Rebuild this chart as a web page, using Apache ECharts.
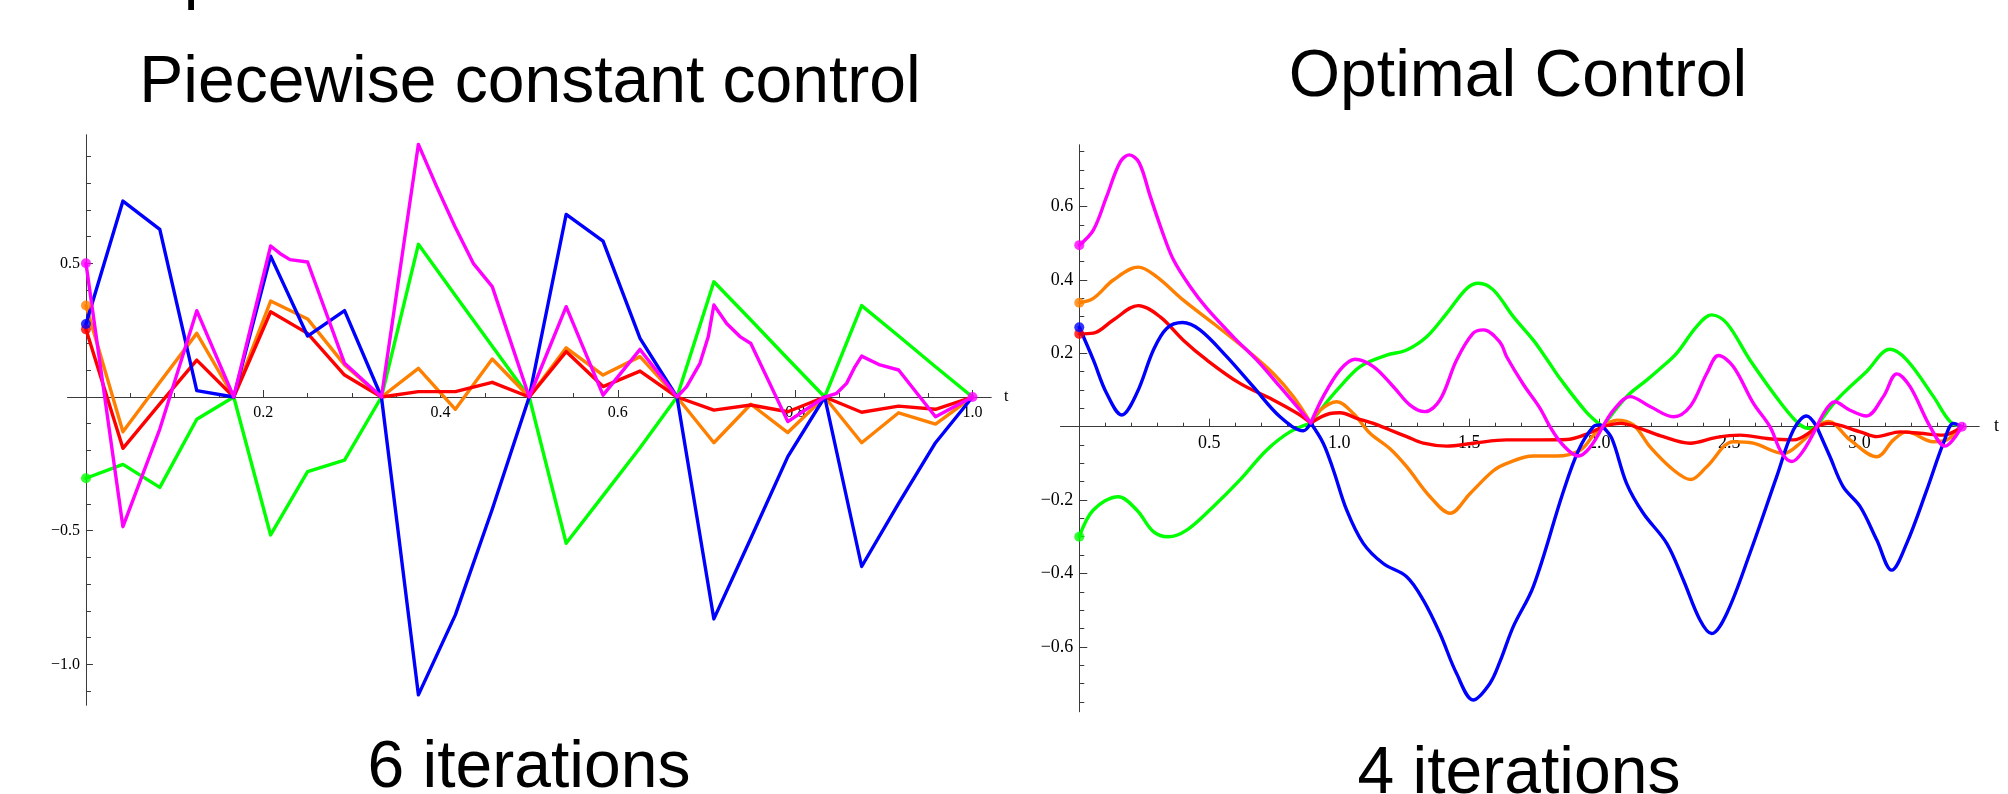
<!DOCTYPE html>
<html>
<head>
<meta charset="utf-8">
<title>Piecewise constant control / Optimal Control</title>
<script src="https://cdn.jsdelivr.net/npm/echarts@6/dist/echarts.min.js"></script>
<style>
html,body{margin:0;padding:0;background:#fff;}
#charts{width:2008px;height:794px;}
</style>
</head>
<body>
<div id="charts"></div>
<script>
// left panel: piecewise constant control, nodes every 1/24
var leftT = [0, 0.0417, 0.0833, 0.125, 0.1667, 0.2083, 0.25, 0.2917, 0.3333, 0.375, 0.4167, 0.4583, 0.5,
	0.5417, 0.5833, 0.625, 0.6667, 0.7083, 0.75, 0.7917, 0.8333, 0.875, 0.9167, 0.9583, 1.0];
var greenL  = [-0.304, -0.252, -0.338, -0.083, 0, -0.516, -0.279, -0.236, 0, 0.571, 0.38, 0.19, 0,
	-0.547, -0.369, -0.19, 0, 0.431, 0.288, 0.143, 0, 0.342, 0.228, 0.113, 0];
var orangeL = [0.342, -0.13, 0.055, 0.238, 0, 0.359, 0.292, 0.12, 0, 0.107, -0.046, 0.142, 0,
	0.184, 0.082, 0.151, 0, -0.171, -0.027, -0.133, 0, -0.171, -0.059, -0.101, 0];
var redL    = [0.253, -0.192, -0.026, 0.138, 0, 0.319, 0.238, 0.082, 0, 0.02, 0.02, 0.055, 0,
	0.17, 0.039, 0.097, 0, -0.049, -0.03, -0.055, 0, -0.057, -0.034, -0.046, 0];
var blueL   = [0.273, 0.733, 0.627, 0.024, 0, 0.527, 0.228, 0.323, 0, -1.114, -0.815, -0.42, 0,
	0.683, 0.583, 0.219, 0, -0.83, -0.528, -0.223, 0, -0.634, -0.398, -0.171, 0];
// magenta is curved between some nodes, so it keeps its own (t, value) pairs
var magentaL = [[0,0.5],[0.0417,-0.485],[0.0833,-0.12],[0.125,0.323],[0.1667,0],[0.2083,0.565],[0.2188,0.537],
	[0.2301,0.514],[0.25,0.505],[0.2917,0.126],[0.3333,0],[0.375,0.945],[0.3956,0.787],[0.4163,0.637],[0.4369,0.5],
	[0.4583,0.413],[0.5,0],[0.5417,0.338],[0.5833,0.007],[0.625,0.178],[0.6667,0],[0.6776,0.039],[0.6926,0.126],
	[0.702,0.226],[0.7083,0.344],[0.7227,0.275],[0.7377,0.226],[0.75,0.2],[0.7917,-0.092],[0.8333,0],[0.8468,0.014],
	[0.858,0.051],[0.8674,0.113],[0.875,0.153],[0.8956,0.12],[0.9167,0.101],[0.9583,-0.074],[1.0,0]];

// right panel: optimal control, smooth curves joined at the knots
var knotsR = [0.89, 2.013, 2.836];
var greenR = [[0,-0.3],[0.054,-0.227],[0.15,-0.191],[0.221,-0.227],[0.285,-0.286],[0.342,-0.3],[0.413,-0.282],
	[0.515,-0.218],[0.618,-0.145],[0.72,-0.064],[0.81,-0.014],[0.89,0.01],
	[0.938,0.055],[1.003,0.109],[1.08,0.164],[1.182,0.195],[1.259,0.209],[1.336,0.245],[1.413,0.309],[1.49,0.377],
	[1.535,0.391],[1.592,0.373],[1.669,0.3],[1.746,0.236],[1.8,0.182],[1.85,0.13],[1.95,0.04],[2.013,0],
	[2.105,0.082],[2.182,0.127],[2.233,0.158],[2.297,0.2],[2.374,0.273],[2.432,0.305],[2.49,0.282],[2.579,0.182],
	[2.708,0.055],[2.772,0.005],[2.81,-0.005],[2.836,0],
	[2.913,0.073],[3.027,0.15],[3.118,0.211],[3.182,0.182],[3.285,0.082],[3.349,0.014],[3.394,0]];
var orangeR = [[0,0.338],[0.054,0.35],[0.131,0.4],[0.227,0.435],[0.297,0.409],[0.4,0.345],[0.515,0.282],
	[0.644,0.209],[0.746,0.145],[0.823,0.082],[0.89,0.01],
	[0.926,0.045],[0.99,0.068],[1.054,0.036],[1.118,-0.018],[1.195,-0.06],[1.259,-0.109],[1.349,-0.191],
	[1.426,-0.236],[1.503,-0.182],[1.592,-0.12],[1.644,-0.1],[1.746,-0.08],[1.836,-0.08],[1.926,-0.064],
	[1.978,-0.023],[2.013,0],
	[2.067,0.018],[2.131,0.005],[2.195,-0.055],[2.285,-0.118],[2.351,-0.144],[2.413,-0.109],[2.515,-0.041],
	[2.592,-0.045],[2.708,-0.073],[2.772,-0.045],[2.836,0],
	[2.881,0.014],[2.964,-0.036],[3.067,-0.082],[3.131,-0.036],[3.182,-0.014],[3.285,-0.041],[3.336,-0.036],[3.394,0]];
var redR = [[0,0.253],[0.054,0.255],[0.131,0.291],[0.227,0.33],[0.31,0.3],[0.4,0.236],[0.49,0.182],[0.618,0.118],
	[0.746,0.073],[0.849,0.032],[0.89,0.01],
	[0.964,0.036],[1.003,0.038],[1.067,0.023],[1.131,0.009],[1.195,-0.009],[1.259,-0.027],[1.323,-0.045],
	[1.413,-0.053],[1.515,-0.045],[1.644,-0.036],[1.772,-0.036],[1.875,-0.035],[1.94,-0.023],[2.013,0],
	[2.082,0.009],[2.159,-0.005],[2.236,-0.025],[2.349,-0.045],[2.451,-0.029],[2.541,-0.023],[2.644,-0.032],
	[2.746,-0.036],[2.836,0],
	[2.881,0.009],[3.003,-0.014],[3.067,-0.027],[3.157,-0.014],[3.233,-0.018],[3.323,-0.023],[3.394,0]];
var blueR = [[0,0.271],[0.054,0.182],[0.105,0.091],[0.163,0.032],[0.221,0.091],[0.285,0.209],[0.336,0.268],
	[0.397,0.284],[0.464,0.264],[0.567,0.191],[0.669,0.109],[0.772,0.027],[0.862,-0.011],[0.89,0.01],
	[0.938,-0.045],[0.977,-0.118],[1.028,-0.227],[1.092,-0.318],[1.169,-0.373],[1.259,-0.409],[1.323,-0.473],
	[1.387,-0.564],[1.451,-0.673],[1.515,-0.745],[1.579,-0.7],[1.618,-0.64],[1.669,-0.545],[1.746,-0.436],
	[1.86,-0.18],[1.92,-0.064],[1.977,0],[2.003,0.005],[2.013,0],
	[2.048,-0.032],[2.105,-0.155],[2.169,-0.236],[2.259,-0.318],[2.323,-0.418],[2.387,-0.527],[2.432,-0.564],
	[2.49,-0.509],[2.579,-0.345],[2.682,-0.136],[2.746,-0.009],[2.797,0.029],[2.836,0],
	[2.887,-0.082],[2.938,-0.164],[3.003,-0.218],[3.067,-0.309],[3.124,-0.391],[3.182,-0.318],[3.259,-0.173],
	[3.323,-0.045],[3.362,0.009],[3.394,0]];
var magentaR = [[0,0.495],[0.054,0.536],[0.105,0.627],[0.156,0.72],[0.192,0.741],[0.23,0.72],[0.272,0.63],
	[0.32,0.53],[0.362,0.455],[0.426,0.382],[0.49,0.323],[0.592,0.245],[0.682,0.182],[0.772,0.109],[0.849,0.045],
	[0.89,0.01],
	[0.938,0.082],[1.003,0.155],[1.06,0.184],[1.131,0.164],[1.208,0.109],[1.272,0.059],[1.329,0.041],[1.387,0.073],
	[1.451,0.182],[1.515,0.255],[1.555,0.264],[1.618,0.23],[1.644,0.19],[1.708,0.115],[1.772,0.05],[1.81,0],
	[1.86,-0.05],[1.919,-0.08],[1.96,-0.06],[2.013,0],
	[2.06,0.05],[2.118,0.082],[2.195,0.055],[2.285,0.027],[2.349,0.055],[2.413,0.145],[2.458,0.194],[2.515,0.164],
	[2.592,0.064],[2.656,0],[2.7,-0.07],[2.74,-0.095],[2.78,-0.07],[2.836,0],
	[2.906,0.068],[2.964,0.045],[3.027,0.029],[3.092,0.082],[3.144,0.144],[3.195,0.109],[3.272,0],[3.329,-0.053],[3.394,0]];

// tick and label values
var leftXLabels  = [0.2, 0.4, 0.6, 0.8, 1.0];
var leftXMinor   = [0.05, 0.1, 0.15, 0.25, 0.3, 0.35, 0.45, 0.5, 0.55, 0.65, 0.7, 0.75, 0.85, 0.9, 0.95];
var leftYLabels  = [-1.0, -0.5, 0.5];
var leftYMinor   = [-1.1, -0.9, -0.8, -0.7, -0.6, -0.4, -0.3, -0.2, -0.1, 0.1, 0.2, 0.3, 0.4, 0.6, 0.7, 0.8, 0.9];
var rightXLabels = [0.5, 1.0, 1.5, 2.0, 2.5, 3.0];
var rightXMinor  = [0.1, 0.2, 0.3, 0.4, 0.6, 0.7, 0.8, 0.9, 1.1, 1.2, 1.3, 1.4, 1.6, 1.7, 1.8, 1.9,
	2.1, 2.2, 2.3, 2.4, 2.6, 2.7, 2.8, 2.9, 3.1, 3.2, 3.3, 3.4];
var rightYLabels = [-0.6, -0.4, -0.2, 0.2, 0.4, 0.6];
var rightYMinor  = [-0.75, -0.7, -0.65, -0.55, -0.5, -0.45, -0.35, -0.3, -0.25, -0.15, -0.1, -0.05,
	0.05, 0.1, 0.15, 0.25, 0.3, 0.35, 0.45, 0.5, 0.55, 0.65, 0.7, 0.75];

var colors = {green:'#00ff00', orange:'#ff8000', red:'#ff0000', blue:'#0000ff', magenta:'#ff00ff'};
var axisColor = '#3a3a3a';
var serif = '"Liberation Serif", "DejaVu Serif", serif';
var sans = '"Liberation Sans", Arial, sans-serif';

function pairs(ts, vs){
	var out = [];
	for (var i = 0; i < ts.length; i++) { out.push([ts[i], vs[i]]); }
	return out;
}

//cut a curve at the knots so each piece is smoothed on its own
function splitAtKnots(data, knots){
	var segs = [], cur = [];
	for (var i = 0; i < data.length; i++) {
		cur.push(data[i]);
		if (i > 0 && knots.indexOf(data[i][0]) >= 0) { segs.push(cur); cur = [data[i]]; }
	}
	if (cur.length > 1) segs.push(cur);
	return segs;
}

function fmt(v){
	return (v < 0 ? '\u2212' : '') + Math.abs(v).toFixed(1);
}

var grids = [], xAxes = [], yAxes = [], series = [];

function hiddenAxis(grid, min, max){
	return {type: 'value', gridIndex: grid, min: min, max: max, show: false};
}

function tickAxis(grid, min, max, ticks, len, labels, fontSize, pos, extra){
	var ax = {
		type: 'value', gridIndex: grid, min: min, max: max, position: pos,
		axisLine: {show: true, onZero: false, lineStyle: {color: axisColor, width: 1}},
		axisTick: {show: true, inside: true, length: len, customValues: ticks, lineStyle: {color: axisColor, width: 1}},
		axisLabel: {show: !!labels, customValues: labels || [], formatter: fmt, margin: pos == 'bottom' ? 8 : 6,
			fontFamily: serif, fontSize: fontSize, color: '#000'},
		splitLine: {show: false}
	};
	for (var k in extra) { ax[k] = extra[k]; }
	return ax;
}

// one panel = a data grid, a grid whose bottom edge is the t axis at 0, a grid whose left edge is the value axis at t=0
function addPanel(p){
	var g = grids.length;
	var zeroY = p.height * p.ymax / (p.ymax - p.ymin);
	var zeroX = p.width * (-p.xmin) / (p.xmax - p.xmin);
	grids.push({left: p.left, top: p.top, width: p.width, height: p.height});
	grids.push({left: p.left, top: p.top, width: p.width, height: zeroY});
	grids.push({left: p.left + zeroX, top: p.top, width: p.width - zeroX, height: p.height});
	var dataAxis = xAxes.length;
	xAxes.push(hiddenAxis(g, p.xmin, p.xmax));
	yAxes.push(hiddenAxis(g, p.ymin, p.ymax));
	// t axis
	xAxes.push(tickAxis(g + 1, p.xmin, p.xmax, p.xMinor, p.minorLen, null, p.fontSize, 'bottom'));
	xAxes.push(tickAxis(g + 1, p.xmin, p.xmax, p.xLabels, p.majorLen, p.xLabels, p.fontSize, 'bottom',
		{name: 't', nameLocation: 'end', nameGap: p.nameGap,
		 nameTextStyle: {fontFamily: serif, fontSize: p.fontSize, color: '#000'}}));
	yAxes.push(hiddenAxis(g + 1, 0, 1));
	yAxes.push(hiddenAxis(g + 1, 0, 1));
	// value axis
	yAxes.push(tickAxis(g + 2, p.ymin, p.ymax, p.yMinor, p.minorLen + 1, null, p.fontSize, 'left'));
	yAxes.push(tickAxis(g + 2, p.ymin, p.ymax, p.yLabels.concat([0]), p.majorLen, p.yLabels, p.fontSize, 'left'));
	xAxes.push(hiddenAxis(g + 2, 0, 1));
	xAxes.push(hiddenAxis(g + 2, 0, 1));
	return dataAxis;
}

function lineSeries(data, color, ai, smooth){
	return {
		type: 'line', xAxisIndex: ai, yAxisIndex: ai, data: data,
		smooth: smooth, showSymbol: false, symbol: 'none', silent: true,
		lineStyle: {color: color, width: 3.4, cap: 'round', join: 'round'},
		z: 2
	};
}

function dots(points, ai){
	return {
		type: 'scatter', xAxisIndex: ai, yAxisIndex: ai, symbolSize: 10, z: 5, silent: true,
		data: points.map(function(p){ return {value: [p[0], p[1]], itemStyle: {color: colors[p[2]]}}; })
	};
}

var leftAxis = addPanel({left: 67.7, top: 135, width: 923.3, height: 570,
	xmin: -0.0206, xmax: 1.0209, ymin: -1.152, ymax: 0.98,
	xLabels: leftXLabels, xMinor: leftXMinor, yLabels: leftYLabels, yMinor: leftYMinor,
	majorLen: 7, minorLen: 4, fontSize: 16, nameGap: 13});
var rightAxis = addPanel({left: 1060.7, top: 145, width: 918.3, height: 566.7,
	xmin: -0.0715, xmax: 3.46, ymin: -0.777, ymax: 0.768,
	xLabels: rightXLabels, xMinor: rightXMinor, yLabels: rightYLabels, yMinor: rightYMinor,
	majorLen: 8, minorLen: 4, fontSize: 18, nameGap: 15});

// left: straight segments
series.push(lineSeries(pairs(leftT, greenL), colors.green, leftAxis, false));
series.push(lineSeries(pairs(leftT, orangeL), colors.orange, leftAxis, false));
series.push(lineSeries(pairs(leftT, redL), colors.red, leftAxis, false));
series.push(lineSeries(pairs(leftT, blueL), colors.blue, leftAxis, false));
series.push(lineSeries(magentaL, colors.magenta, leftAxis, false));
// right: smooth pieces
var rightCurves = [[greenR, 'green'], [orangeR, 'orange'], [redR, 'red'], [blueR, 'blue'], [magentaR, 'magenta']];
rightCurves.forEach(function(c){
	splitAtKnots(c[0], knotsR).forEach(function(seg){
		series.push(lineSeries(seg, colors[c[1]], rightAxis, 0.35));
	});
});
// start and end markers
series.push(dots([[0, greenL[0], 'green'], [0, redL[0], 'red'], [0, orangeL[0], 'orange'], [0, blueL[0], 'blue'],
	[0, magentaL[0][1], 'magenta'], [1.0, 0, 'magenta']], leftAxis));
series.push(dots([[0, greenR[0][1], 'green'], [0, redR[0][1], 'red'], [0, orangeR[0][1], 'orange'],
	[0, blueR[0][1], 'blue'], [0, magentaR[0][1], 'magenta'], [3.394, 0, 'magenta']], rightAxis));

function label(text, x, y){
	return {type: 'text', x: x, y: y, silent: true,
		style: {text: text, font: '66px ' + sans, fill: '#000',
			textAlign: 'center', textVerticalAlign: 'middle', align: 'center', verticalAlign: 'middle'}};
}

var charts = echarts.init(document.getElementById('charts'), null, {renderer: 'canvas'});
charts.setOption({
	animation: false,
	backgroundColor: '#ffffff',
	grid: grids,
	xAxis: xAxes,
	yAxis: yAxes,
	graphic: [
		label('p', 202, -22),
		label('Piecewise constant control', 530, 84),
		label('Optimal Control', 1518, 78),
		label('6 iterations', 529, 769),
		label('4 iterations', 1519, 775)
	],
	series: series
});
</script>
</body>
</html>
